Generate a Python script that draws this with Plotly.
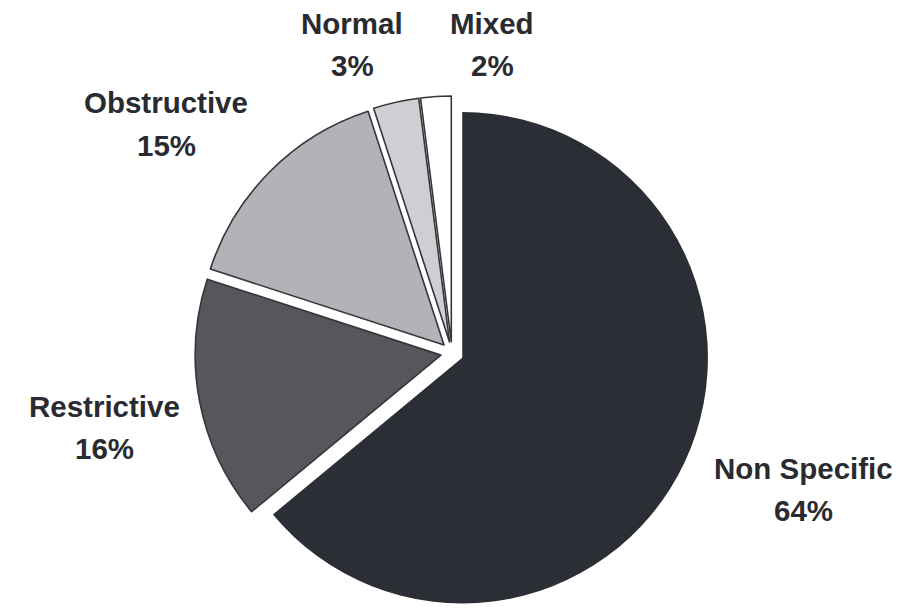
import plotly.graph_objects as go

# Breakdown of spirometry patterns
categories = ["Non Specific", "Restrictive", "Obstructive", "Normal", "Mixed"]
shares = [64, 16, 15, 3, 2]

slice_colors = ["#2c2e35", "#56575c", "#b3b3b7", "#cfcfd3", "#ffffff"]
edge_colors = ["#2c2e35", "#35363b", "#35363b", "#35363b", "#35363b"]
edge_widths = [0, 1.6, 1.6, 1.6, 1.6]

FIG_W, FIG_H = 921, 610
MARGIN_T, MARGIN_B = 96, 0
PLOT_H = FIG_H - MARGIN_T - MARGIN_B

fig = go.Figure(
    go.Pie(
        labels=categories,
        values=shares,
        sort=False,
        direction="clockwise",
        rotation=0,
        pull=[0.046] * len(shares),
        marker=dict(colors=slice_colors,
                    line=dict(color=edge_colors, width=edge_widths)),
        textinfo="none",
        hoverinfo="label+percent",
        showlegend=False,
        domain=dict(x=[0, 2 * 452 / FIG_W], y=[0, 1]),
    )
)

# label anchor points (pixel centre of each name line); percentage sits one line below
label_pos = {
    "Non Specific": (803, 468),
    "Restrictive": (104, 406),
    "Obstructive": (166, 103),
    "Normal": (352, 23),
    "Mixed": (492, 23),
}
LINE_GAP = 42
text_font = dict(family="Liberation Sans, Arial, sans-serif", size=29.5, color="#2a2b30")

total = sum(shares)
annotations = []
for name, val in zip(categories, shares):
    px, py = label_pos[name]
    pct = f"{round(100 * val / total)}%"
    for txt, yy in ((name, py), (pct, py + LINE_GAP)):
        annotations.append(dict(
            text=f"<b>{txt}</b>",
            x=px / FIG_W, y=(FIG_H - MARGIN_B - yy) / PLOT_H,
            xref="paper", yref="paper",
            xanchor="center", yanchor="middle",
            showarrow=False, font=text_font,
        ))

fig.update_layout(
    width=FIG_W, height=FIG_H,
    margin=dict(l=0, r=0, t=MARGIN_T, b=MARGIN_B),
    paper_bgcolor="white", plot_bgcolor="white",
    annotations=annotations,
)

fig.write_html("out.html")
